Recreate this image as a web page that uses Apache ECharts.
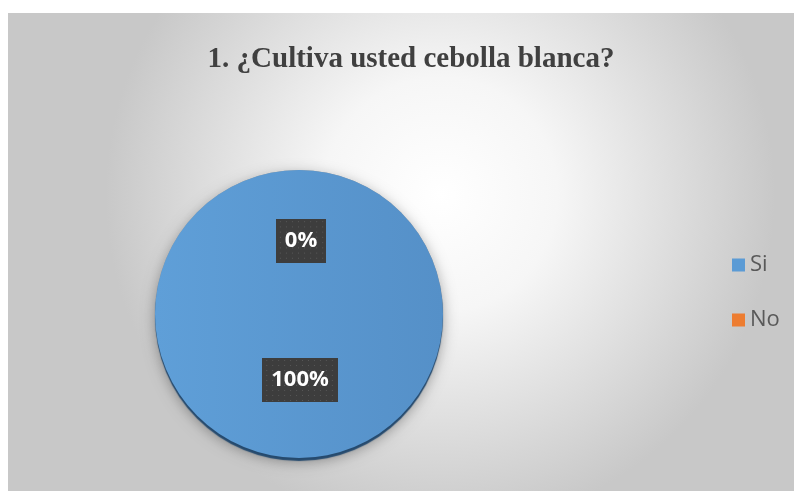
<!DOCTYPE html>
<html>
<head>
<meta charset="utf-8">
<script src="https://cdn.jsdelivr.net/npm/echarts@6/dist/echarts.min.js"></script>
<style>
  html, body { margin: 0; padding: 0; background: #ffffff; }
  #chart { width: 794px; height: 491px; }
</style>
</head>
<body>
<div id="chart"></div>
<script>
// Survey question and answers
const titleText = '1. ¿Cultiva usted cebolla blanca?';
const categories = ['Si', 'No'];
const percentValues = [100, 0];
const sliceColors = ['#5b9bd5', '#ed7d31'];

// Dark dotted texture for the value label boxes
function dottedTexture(w, h) {
  const c = document.createElement('canvas');
  c.width = w; c.height = h;
  const g = c.getContext('2d');
  g.fillStyle = '#3d3d3d';
  g.fillRect(0, 0, w, h);
  g.fillStyle = '#575757';
  for (let y = 2; y < h; y += 5) {
    for (let x = ((y / 5) % 2 ? 4 : 1); x < w; x += 6) {
      g.fillRect(x, y, 1, 1);
    }
  }
  return c;
}
const texSmall = dottedTexture(50, 42);
const texLarge = dottedTexture(76, 44);

const pieData = categories.map((name, i) => ({
  name,
  value: percentValues[i],
  itemStyle: {
    color: i === 0 ? {
      type: 'linear', x: 0, y: 0, x2: 1, y2: 0,
      colorStops: [{ offset: 0, color: '#5f9fd8' }, { offset: 1, color: '#5590c8' }]
    } : sliceColors[i]
  },
  label: {
    backgroundColor: { image: i === 0 ? texLarge : texSmall },
    offset: i === 0 ? [1, -9] : [2, 2]
  }
}));

const chart = echarts.init(document.getElementById('chart'), null, { renderer: 'canvas' });

chart.setOption({
  backgroundColor: '#ffffff',
  animation: false,
  graphic: [{
    type: 'rect',
    z: -10,
    shape: { x: 8, y: 13, width: 786, height: 478 },
    style: {
      fill: {
        type: 'radial', x: 0.55, y: 0.38, r: 0.7,
        colorStops: [
          { offset: 0, color: '#ffffff' },
          { offset: 0.35, color: '#f6f6f6' },
          { offset: 1, color: '#c8c8c8' }
        ]
      }
    }
  }],
  title: {
    text: titleText,
    left: 406,
    textAlign: 'center',
    top: 40,
    textStyle: {
      fontFamily: '"Liberation Serif", "Times New Roman", serif',
      fontWeight: 'bold',
      fontSize: 29,
      color: '#404040'
    }
  },
  legend: {
    orient: 'vertical',
    left: 732,
    top: 254,
    padding: 0,
    icon: 'rect',
    itemWidth: 13,
    itemHeight: 13,
    itemGap: 33,
    data: categories.map((name, i) => ({ name, itemStyle: { color: sliceColors[i] } })),
    textStyle: {
      fontFamily: '"Open Sans", sans-serif',
      fontSize: 22,
      lineHeight: 20,
      color: '#595959'
    },
    selectedMode: false
  },
  series: [
    {
      // soft grey drop shadow underneath the pie
      type: 'pie',
      silent: true,
      z: 1,
      center: [299, 314],
      radius: [0, 144],
      startAngle: 90,
      label: { show: false },
      labelLine: { show: false },
      data: [{ value: 1, itemStyle: {
        color: '#9a9a9a',
        shadowBlur: 14,
        shadowColor: 'rgba(0,0,0,0.35)',
        shadowOffsetY: 4
      } }]
    },
    {
      type: 'pie',
      z: 2,
      center: [299, 314],
      radius: [0, 144],
      startAngle: 90,
      clockwise: true,
      stillShowZeroSum: true,
      avoidLabelOverlap: false,
      itemStyle: {
        borderWidth: 0,
        shadowBlur: 1,
        shadowColor: '#254a6e',
        shadowOffsetY: 3
      },
      label: {
        show: true,
        position: 'inside',
        formatter: p => p.value + '%',
        fontFamily: '"Open Sans", sans-serif',
        fontWeight: 'bold',
        fontSize: 22,
        lineHeight: 26,
        color: '#ffffff',
        padding: [9, 9, 9, 9],
        shadowBlur: 5,
        shadowColor: 'rgba(0,0,0,0.45)',
        shadowOffsetX: 2,
        shadowOffsetY: 2
      },
      labelLine: { show: false },
      data: pieData
    }
  ]
});
</script>
</body>
</html>
